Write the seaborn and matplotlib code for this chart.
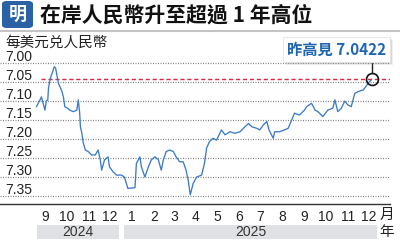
import matplotlib
matplotlib.use("Agg")
import numpy as np
import pandas as pd
import matplotlib.pyplot as plt
import matplotlib.dates as mdates
import seaborn as sns
from matplotlib.patches import Rectangle, FancyBboxPatch
from matplotlib.lines import Line2D
from matplotlib.ticker import FixedLocator, FixedFormatter, NullFormatter

# ---------------- data ----------------
dates = [
    "2024-09-02", "2024-09-07", "2024-09-09", "2024-09-12", "2024-09-14", "2024-09-16",
    "2024-09-18", "2024-09-19", "2024-09-21", "2024-09-23", "2024-09-25", "2024-09-27",
    "2024-09-29", "2024-10-03", "2024-10-08", "2024-10-10", "2024-10-12", "2024-10-15",
    "2024-10-19", "2024-10-24", "2024-10-29", "2024-10-31", "2024-11-02", "2024-11-03",
    "2024-11-05", "2024-11-07", "2024-11-10", "2024-11-14", "2024-11-19", "2024-11-24",
    "2024-11-28", "2024-12-01", "2024-12-03", "2024-12-07", "2024-12-12", "2024-12-14",
    "2024-12-19", "2024-12-24", "2024-12-28", "2024-12-31", "2025-01-04", "2025-01-09",
    "2025-01-19", "2025-01-21", "2025-01-26", "2025-01-28", "2025-02-02", "2025-02-07",
    "2025-02-11", "2025-02-16", "2025-02-21", "2025-02-25", "2025-02-28", "2025-03-04",
    "2025-03-09", "2025-03-14", "2025-03-18", "2025-03-23", "2025-03-28", "2025-04-01",
    "2025-04-04", "2025-04-07", "2025-04-11", "2025-04-16", "2025-04-23", "2025-04-27",
    "2025-04-30", "2025-05-04", "2025-05-09", "2025-05-14", "2025-05-21", "2025-05-26",
    "2025-06-02", "2025-06-09", "2025-06-16", "2025-06-23", "2025-06-28", "2025-07-03",
    "2025-07-10", "2025-07-14", "2025-07-19", "2025-07-24", "2025-07-27", "2025-08-02",
    "2025-08-04", "2025-08-11", "2025-08-18", "2025-08-23", "2025-08-28", "2025-09-01",
    "2025-09-08", "2025-09-15", "2025-09-18", "2025-09-25", "2025-09-30", "2025-10-04",
    "2025-10-11", "2025-10-18", "2025-10-25", "2025-10-28", "2025-11-01", "2025-11-06",
    "2025-11-11", "2025-11-15", "2025-11-20", "2025-11-25", "2025-11-30", "2025-12-07",
    "2025-12-14", "2025-12-18", "2025-12-19",
]
rates = [
    7.115, 7.097, 7.089, 7.110, 7.124, 7.100,
    7.097, 7.066, 7.045, 7.032, 7.023, 7.010,
    7.013, 7.053, 7.075, 7.089, 7.115, 7.118,
    7.124, 7.128, 7.124, 7.097, 7.132, 7.168,
    7.184, 7.210, 7.229, 7.233, 7.242, 7.242,
    7.229, 7.255, 7.282, 7.255, 7.247, 7.273,
    7.286, 7.295, 7.295, 7.295, 7.300, 7.330,
    7.328, 7.264, 7.247, 7.273, 7.300, 7.273,
    7.255, 7.247, 7.255, 7.282, 7.255, 7.233,
    7.229, 7.233, 7.247, 7.260, 7.260, 7.282,
    7.308, 7.347, 7.317, 7.300, 7.295, 7.264,
    7.224, 7.207, 7.198, 7.203, 7.176, 7.189,
    7.181, 7.185, 7.181, 7.168, 7.159, 7.168,
    7.172, 7.176, 7.163, 7.154, 7.176, 7.198,
    7.181, 7.181, 7.176, 7.172, 7.150, 7.132,
    7.137, 7.124, 7.115, 7.106, 7.124, 7.128,
    7.141, 7.124, 7.119, 7.097, 7.128, 7.119,
    7.100, 7.110, 7.115, 7.080, 7.075, 7.071,
    7.053, 7.045, 7.0422,
]
high_date = "2025-12-19"
high_value = 7.0422
y_ticks = [7.00, 7.05, 7.10, 7.15, 7.20, 7.25, 7.30, 7.35]
month_labels = ["9", "10", "11", "12", "1", "2", "3", "4", "5", "6", "7", "8",
                "9", "10", "11", "12"]
years = ["2024", "2025"]
title = "在岸人民幣升至超過 1 年高位"
unit_label = "每美元兑人民幣"
high_label = "昨高見 7.0422"
logo_text = "明"
month_unit = "月"
year_unit = "年"

df = pd.DataFrame({"date": pd.to_datetime(dates), "rate": rates})

# ---------------- style ----------------
sns.set_style("white")
CJK = ["Noto Sans CJK TC", "DejaVu Sans"]
LAT = ["Liberation Sans", "DejaVu Sans"]
plt.rcParams["font.family"] = CJK

W, H = 400, 240
fig = plt.figure(figsize=(4, 2.4), dpi=100)
fig.patch.set_facecolor("white")

ax_top_px, ax_bot_px, ax_right_px = 62, 204, 390
ax = fig.add_axes([0, 1 - ax_bot_px / H, ax_right_px / W, (ax_bot_px - ax_top_px) / H])
ax.set_facecolor("none")

sns.lineplot(data=df, x="date", y="rate", ax=ax, color="#3d7bc4", linewidth=0.95, zorder=3)

# scales
px_per_val = 380.0
y0_px = 63
ax.set_ylim(7.00 + (ax_bot_px - y0_px) / px_per_val, 7.00 + (ax_top_px - y0_px) / px_per_val)
ref = mdates.date2num(pd.Timestamp("2024-10-01"))
px_per_day = 0.709
ax.set_xlim(ref - 57 / px_per_day, ref + (ax_right_px - 57) / px_per_day)

for s in ["top", "left", "right"]:
    ax.spines[s].set_visible(False)
ax.spines["bottom"].set_color("#333333")
ax.spines["bottom"].set_linewidth(1.0)
ax.set_xlabel("")
ax.set_ylabel("")
ax.set_yticks([])

# gridlines + y labels
for v in y_ticks:
    ax.axhline(v, color="#808080", lw=0.9, ls=(0, (0.8, 1.2)), zorder=1)
    ax.annotate(f"{v:.2f}", xy=(5 / ax_right_px, v),
                xycoords=(ax.transAxes, ax.transData),
                xytext=(0, 1.5), textcoords="offset points",
                ha="left", va="baseline", fontsize=10, family=LAT,
                color="#222222", annotation_clip=False)

# month ticks
major = pd.date_range("2024-10-01", "2026-01-01", freq="MS")
minor = pd.date_range("2024-09-01", "2025-12-01", freq="MS") + pd.Timedelta(days=14)
ax.xaxis.set_major_locator(FixedLocator(mdates.date2num(major)))
ax.xaxis.set_major_formatter(NullFormatter())
ax.xaxis.set_minor_locator(FixedLocator(mdates.date2num(minor)))
ax.xaxis.set_minor_formatter(FixedFormatter(month_labels))
ax.tick_params(axis="x", which="major", length=3.6, width=1.0, color="#333333", direction="out")
ax.tick_params(axis="x", which="minor", length=0, pad=4.5, labelsize=10, labelcolor="#222222")
for lab in ax.xaxis.get_minorticklabels():
    lab.set_family(LAT)

# high line and marker
ax.axhline(high_value, xmin=41 / ax_right_px, xmax=1, color="#d42a43", lw=1.0,
           ls=(0, (3, 2)), zorder=2)
hd = pd.Timestamp(high_date)
ax.plot([hd], [high_value], marker="o", ms=8.6, mfc="none", mec="#111111", mew=1.2,
        clip_on=False, zorder=6)
ax.plot([hd, hd], [high_value - 6 / px_per_val, 7.00 + (ax_top_px - y0_px) / px_per_val],
        color="#222222", lw=1.0, clip_on=False, zorder=6)

# year bars
ybot = (ax_bot_px - 239) / (ax_bot_px - ax_top_px)
yh = 14 / (ax_bot_px - ax_top_px)
ymid = (ax_bot_px - 232) / (ax_bot_px - ax_top_px)
bt = matplotlib.transforms.blended_transform_factory(ax.transData, ax.transAxes)
first = pd.Timestamp("2024-09-01")
for y in years:
    s = max(pd.Timestamp(f"{y}-01-01"), first) + pd.Timedelta(days=2)
    e = pd.Timestamp(f"{y}-12-31") - pd.Timedelta(days=4)
    xs, xe = mdates.date2num(s), mdates.date2num(e)
    ax.add_patch(Rectangle((xs, ybot), xe - xs, yh, transform=bt, fc="#dfe1e5",
                           ec="none", clip_on=False, zorder=0))
    ax.text((xs + xe) / 2, ymid, y, transform=bt, ha="center", va="center",
            fontsize=10, family=LAT, color="#333333")

fig.text(387 / W, 1 - 215 / H, month_unit, ha="center", va="center", fontsize=10.5,
         family=CJK, color="#222222")
fig.text(387 / W, 1 - 232 / H, year_unit, ha="center", va="center", fontsize=10.5,
         family=CJK, color="#222222")

# header
fig.patches.append(FancyBboxPatch((2 / W, 1 - 28 / H), 31 / W, 27 / H,
                                  boxstyle="round,pad=0,rounding_size=0.012",
                                  transform=fig.transFigure, fc="#2b62a6", ec="none"))
fig.text(17.5 / W, 1 - 14.5 / H, logo_text, ha="center", va="center", fontsize=13,
         weight="bold", color="white", family=CJK)
fig.text(40 / W, 1 - 15 / H, title, ha="left", va="center", fontsize=15,
         weight="heavy", color="#111111", family=CJK)
fig.add_artist(Line2D([0, 1], [1 - 30.5 / H] * 2, color="#c4c4c4", lw=1.5,
                      transform=fig.transFigure))
fig.text(5 / W, 1 - 43 / H, unit_label, ha="left", va="center", fontsize=10.5,
         family=CJK, color="#222222")

# annotation box
bx, by, bw, bh = 283, 37, 107, 25
for off, a in [(3, 0.15), (2, 0.25), (1, 0.35)]:
    fig.patches.append(Rectangle(((bx + off) / W, 1 - (by + bh + off) / H), bw / W, bh / H,
                                 transform=fig.transFigure, fc="#9a9a9a", ec="none",
                                 alpha=a, zorder=4))
fig.patches.append(Rectangle((bx / W, 1 - (by + bh) / H), bw / W, bh / H,
                             transform=fig.transFigure, fc="white", ec="#e3e3e3",
                             lw=0.6, zorder=5))
fig.text((bx + bw / 2) / W, 1 - (by + bh / 2 + 0.5) / H, high_label, ha="center",
         va="center", fontsize=11, weight="bold", color="#1f66b0", family=CJK, zorder=6)

fig.savefig("out.png", dpi=100, facecolor="white")
